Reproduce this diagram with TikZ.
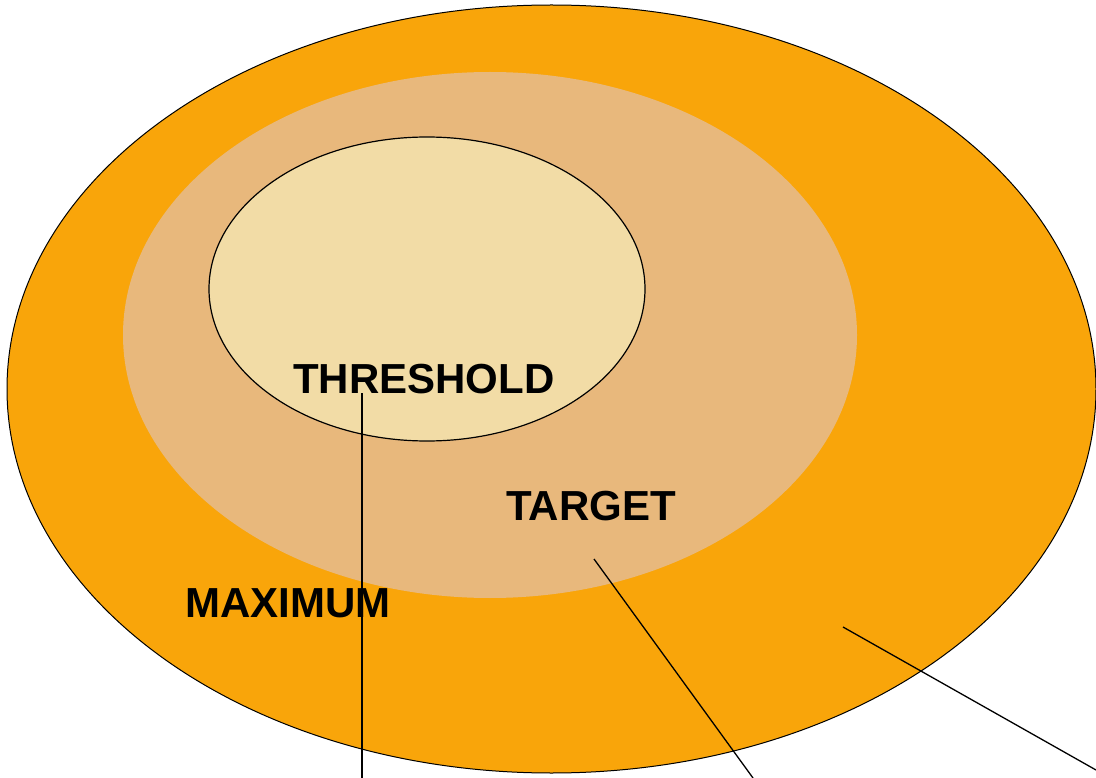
\documentclass[tikz,border=0pt]{standalone}
\usepackage{fontspec}
\setmainfont{Liberation Sans}
\definecolor{outerc}{RGB}{249,165,10}
\definecolor{midc}{RGB}{232,184,124}
\definecolor{innerc}{RGB}{242,220,166}
\begin{document}
\begin{tikzpicture}[x=1pt,y=-1pt,
  lbl/.style={font=\fontsize{42}{48}\selectfont\bfseries, anchor=base, inner sep=0pt},
  conn/.style={draw=black, line width=1.3pt}]
\useasboundingbox (0,0) rectangle (1096,778);
\filldraw[fill=outerc, draw=black, line width=1pt] (551.5,389) ellipse [x radius=544.5, y radius=384];
\fill[midc] (490,335) ellipse [x radius=367, y radius=263];
\filldraw[fill=innerc, draw=black, line width=1.2pt] (427,289) ellipse [x radius=218, y radius=152];
\node[lbl] (thr) at (424,393) {THRESHOLD};
\node[lbl] (tgt) at (591,520) {TARGET};
\node[lbl] (max) at (288,617) {MAXIMUM};
\coordinate (t1) at (362,393);
\coordinate (t2) at (362,778);
\coordinate (g1) at (594,559);
\coordinate (g2) at (753,778);
\coordinate (m1) at (843,627);
\coordinate (m2) at (1096,770);
\draw[conn] (t1) -- (t2);
\draw[conn] (g1) -- (g2);
\draw[conn] (m1) -- (m2);
\end{tikzpicture}
\end{document}
